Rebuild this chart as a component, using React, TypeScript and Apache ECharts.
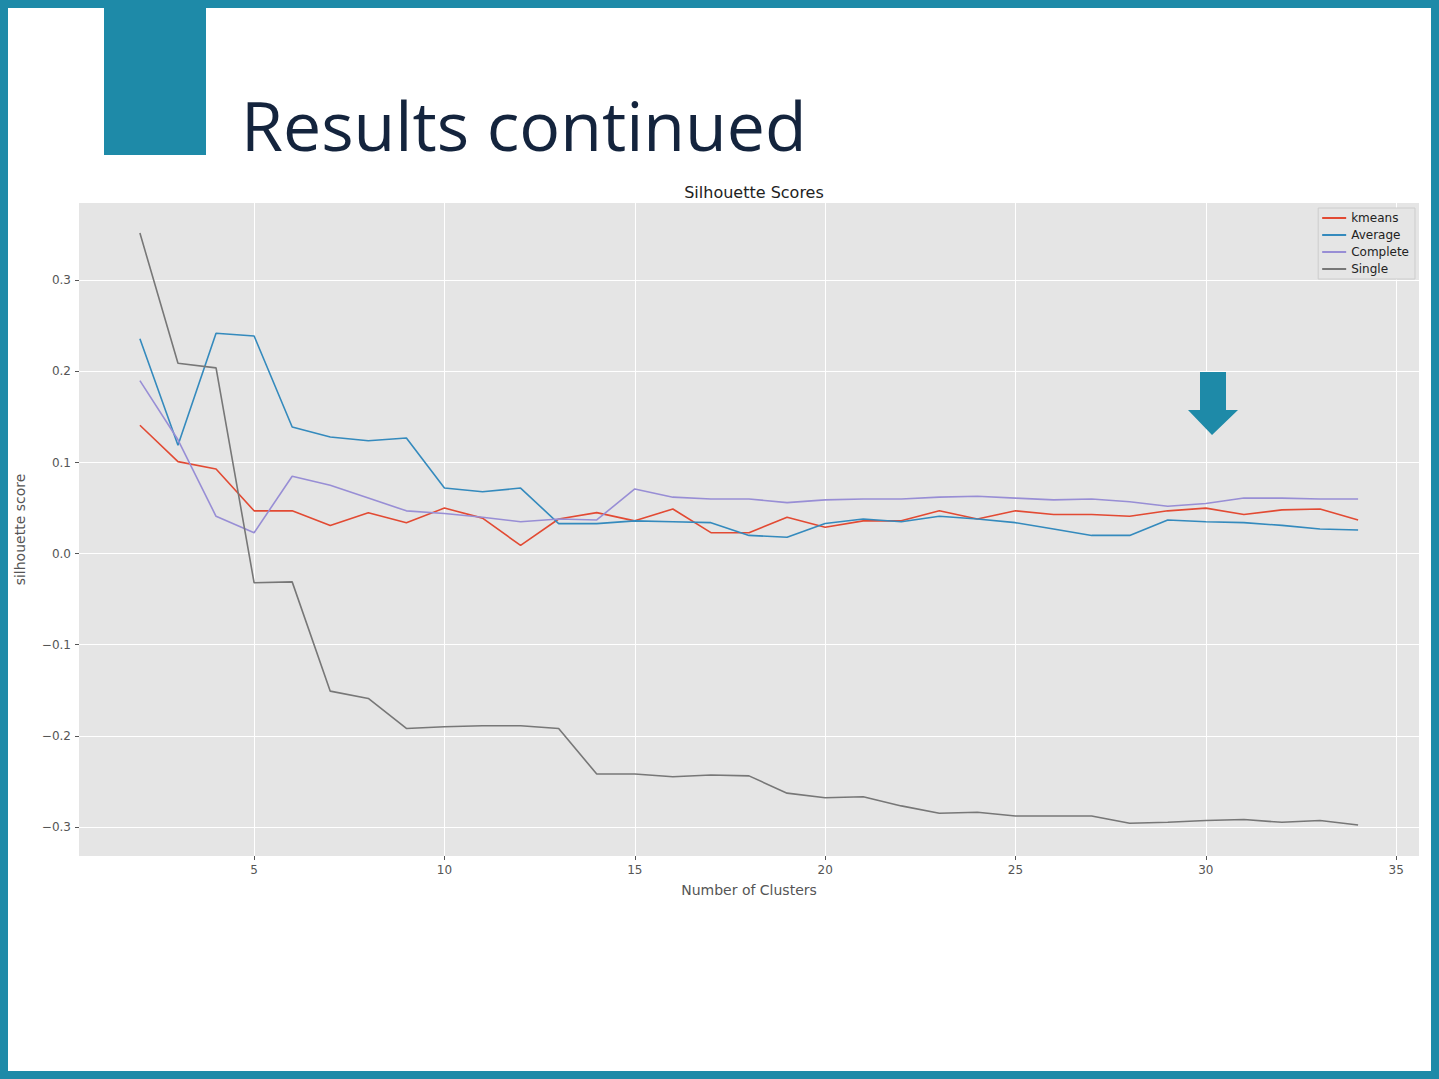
import React, { useEffect, useRef } from "react";
import * as echarts from "echarts";

const clusters = [2, 3, 4, 5, 6, 7, 8, 9, 10, 11, 12, 13, 14, 15, 16, 17, 18, 19, 20, 21, 22, 23, 24, 25, 26, 27, 28, 29, 30, 31, 32, 33, 34];
const kmeans = [0.141, 0.101, 0.093, 0.047, 0.047, 0.031, 0.045, 0.034, 0.05, 0.039, 0.009, 0.038, 0.045, 0.036, 0.049, 0.023, 0.023, 0.04, 0.029, 0.036, 0.036, 0.047, 0.038, 0.047, 0.043, 0.043, 0.041, 0.047, 0.05, 0.043, 0.048, 0.049, 0.037];
const average = [0.236, 0.119, 0.242, 0.239, 0.139, 0.128, 0.124, 0.127, 0.072, 0.068, 0.072, 0.033, 0.033, 0.036, 0.035, 0.034, 0.02, 0.018, 0.033, 0.038, 0.035, 0.041, 0.038, 0.034, 0.027, 0.02, 0.02, 0.037, 0.035, 0.034, 0.031, 0.027, 0.026];
const complete = [0.19, 0.125, 0.041, 0.023, 0.085, 0.075, 0.061, 0.047, 0.044, 0.04, 0.035, 0.038, 0.037, 0.071, 0.062, 0.06, 0.06, 0.056, 0.059, 0.06, 0.06, 0.062, 0.063, 0.061, 0.059, 0.06, 0.057, 0.052, 0.055, 0.061, 0.061, 0.06, 0.06];
const single = [0.352, 0.209, 0.204, -0.032, -0.031, -0.151, -0.159, -0.192, -0.19, -0.189, -0.189, -0.192, -0.242, -0.242, -0.245, -0.243, -0.244, -0.263, -0.268, -0.267, -0.277, -0.285, -0.284, -0.288, -0.288, -0.288, -0.296, -0.295, -0.293, -0.292, -0.295, -0.293, -0.298];
const xTicks = [5, 10, 15, 20, 25, 30, 35];
const yTicks = [-0.3, -0.2, -0.1, 0, 0.1, 0.2, 0.3];

const seriesList = [
  { name: "kmeans", data: kmeans, color: "#E24A33" },
  { name: "Average", data: average, color: "#348ABD" },
  { name: "Complete", data: complete, color: "#988ED5" },
  { name: "Single", data: single, color: "#777777" },
];

const App = () => {
  const chartRef = useRef(null);

  useEffect(() => {
    if (!chartRef.current) return;
    const chart = echarts.init(chartRef.current, null, { renderer: "svg" });
    const teal = "#1e8aa8";
    chart.setOption({
      animation: false,
      backgroundColor: "#ffffff",
      textStyle: { fontFamily: "DejaVu Sans" },
      title: {
        text: "Silhouette Scores",
        left: 749,
        top: 179,
        textAlign: "center",
        textStyle: { fontSize: 16, fontWeight: "normal", color: "#222" },
      },
      legend: {
        right: 24,
        top: 208,
        orient: "vertical",
        itemGap: 5,
        itemWidth: 24,
        itemHeight: 2,
        icon: "rect",
        backgroundColor: "#e5e5e5",
        borderColor: "#cccccc",
        borderWidth: 1,
        padding: [4, 6, 4, 4],
        textStyle: { fontSize: 12, color: "#222" },
        data: seriesList.map((s) => s.name),
      },
      grid: { left: 79, right: 20, top: 203, bottom: 223, show: true, backgroundColor: "#e5e5e5", borderWidth: 0 },
      xAxis: {
        type: "value",
        min: 0.4,
        max: 35.6,
        name: "Number of Clusters",
        nameLocation: "middle",
        nameGap: 27,
        nameTextStyle: { fontSize: 14, color: "#555" },
        axisLine: { show: false, onZero: false },
        axisTick: { show: true, customValues: xTicks, length: 4, lineStyle: { color: "#555" } },
        axisLabel: { customValues: xTicks, color: "#555", fontSize: 12 },
        splitLine: { show: true, lineStyle: { color: "#ffffff", width: 1 } },
      },
      yAxis: {
        type: "value",
        min: -0.332,
        max: 0.385,
        name: "silhouette score",
        nameLocation: "middle",
        nameGap: 52,
        nameTextStyle: { fontSize: 14, color: "#555" },
        axisLine: { show: false, onZero: false },
        axisTick: { show: true, customValues: yTicks, length: 4, lineStyle: { color: "#555" } },
        axisLabel: {
          customValues: yTicks,
          color: "#555",
          fontSize: 12,
          formatter: (v: number) => v.toFixed(1).replace("-", "\u2212"),
        },
        splitLine: { show: true, lineStyle: { color: "#ffffff", width: 1 } },
      },
      series: seriesList.map((s) => ({
        name: s.name,
        type: "line",
        showSymbol: false,
        symbol: "none",
        data: clusters.map((c, i) => [c, s.data[i]]),
        lineStyle: { color: s.color, width: 1.6 },
        itemStyle: { color: s.color },
      })),
      graphic: [
        { type: "rect", shape: { x: 0, y: 0, width: 1439, height: 8 }, style: { fill: teal }, z: 100 },
        { type: "rect", shape: { x: 0, y: 1071, width: 1439, height: 8 }, style: { fill: teal }, z: 100 },
        { type: "rect", shape: { x: 0, y: 0, width: 8, height: 1079 }, style: { fill: teal }, z: 100 },
        { type: "rect", shape: { x: 1431, y: 0, width: 8, height: 1079 }, style: { fill: teal }, z: 100 },
        { type: "rect", shape: { x: 104, y: 0, width: 102, height: 155 }, style: { fill: teal } },
        {
          type: "text",
          x: 241,
          y: 158,
          style: { text: "Results continued", fontSize: 68, fill: "#14243d", textVerticalAlign: "bottom", fontFamily: "Open Sans" },
        },
        {
          type: "polygon",
          shape: { points: [[1200, 372], [1226, 372], [1226, 410], [1238, 410], [1212, 435], [1188, 410], [1200, 410]] },
          style: { fill: teal },
          z: 50,
        },
      ],
    });
    return () => chart.dispose();
  }, []);

  return <div ref={chartRef} style={{ position: "absolute", left: 0, top: 0, width: 1439, height: 1079 }} />;
};

export default App;
